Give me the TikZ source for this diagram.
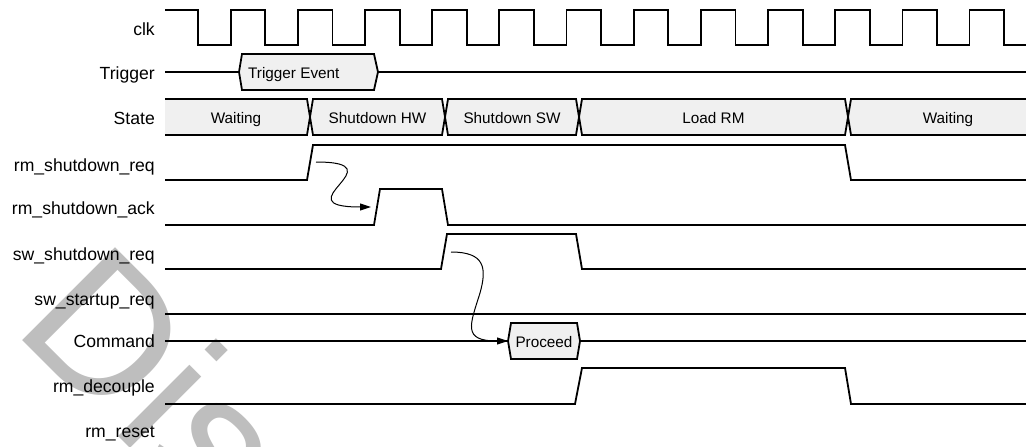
\documentclass[tikz,border=0pt]{standalone}
\usepackage{fontspec}
\setmainfont{Liberation Sans}
\usetikzlibrary{arrows.meta}
\definecolor{gris}{RGB}{240,240,240}
\definecolor{marca}{RGB}{190,190,190}

\begin{document}
\begin{tikzpicture}[x=1pt,y=-1pt,
lbl/.style={anchor=base east,inner sep=0pt,font=\fontsize{17.6}{20}\selectfont},
txt/.style={anchor=base,inner sep=0pt,font=\fontsize{15.3}{18}\selectfont},
wave/.style={line width=1.8pt,line join=miter},
bus/.style={wave,fill=gris},
arr/.style={-{Triangle[length=11pt,width=7pt]},line width=1pt}
]
\useasboundingbox (0,0) rectangle (1026,447);
\clip (0,0) rectangle (1026,447);

\node[anchor=base west,inner sep=0pt,rotate=-45,text=marca,font=\fontsize{191}{191}\selectfont] (wm) at (11.4,329.4) {Discontinued};

\foreach \n/\t/\y in {lclk/clk/35, ltrg/Trigger/79, lst/State/124, lrsq/rm\_shutdown\_req/171, lrsa/rm\_shutdown\_ack/214, lssq/sw\_shutdown\_req/260, lsuq/sw\_startup\_req/305, lcmd/Command/347, lrdc/rm\_decouple/392, lrst/rm\_reset/437}
  \node[lbl] (\n) at (155,\y) {\t};

\draw[wave] (165,10) \foreach \i in {0,...,12} { -- ({198.2+67.17*\i},10) -- ({198.2+67.17*\i},45) -- ({230.7+67.17*\i},45) -- ({230.7+67.17*\i},10) };

\draw[wave] (165,72) -- (1026,72);
\filldraw[bus] (239,72) -- (242,54) -- (374,54) -- (378,72) -- (374,90) -- (242,90) -- cycle;
\node[txt,anchor=base west] (trig) at (248,78.7) {Trigger Event};

\fill[gris] (165,99) -- (307,99) -- (310,117) -- (307,135) -- (165,135) -- cycle;
\draw[wave] (165,99) -- (307,99) -- (310,117) -- (307,135) -- (165,135);
\foreach \a/\b in {310/445,445/579,579/848}
  \filldraw[bus] (\a,117) -- (\a+3,99) -- (\b-3,99) -- (\b,117) -- (\b-3,135) -- (\a+3,135) -- cycle;
\fill[gris] (848,117) -- (851,99) -- (1030,99) -- (1030,135) -- (851,135) -- cycle;
\draw[wave] (1030,99) -- (851,99) -- (848,117) -- (851,135) -- (1030,135);
\foreach \n/\x/\t in {s1/236/Waiting, s2/377.5/Shutdown HW, s3/512/Shutdown SW, s4/713.5/Load RM, s5/948/Waiting}
  \node[txt] (\n) at (\x,123.3) {\t};

\draw[wave] (165,180) -- (307,180) -- (313,145) -- (845,145) -- (851,180) -- (1026,180);
\draw[wave] (165,225) -- (374,225) -- (380,189) -- (442,189) -- (448,225) -- (1026,225);
\draw[wave] (165,269) -- (441,269) -- (447,234) -- (576,234) -- (582,269) -- (1026,269);
\draw[wave] (165,314) -- (1026,314);
\draw[wave] (165,341) -- (1026,341);
\filldraw[bus] (508,341) -- (511,323) -- (577,323) -- (580,341) -- (577,359) -- (511,359) -- cycle;
\node[txt] (proc) at (544,347.3) {Proceed};
\draw[wave] (165,404) -- (575,404) -- (582,368) -- (845,368) -- (851,404) -- (1026,404);

\coordinate (req) at (316,162);
\coordinate (ack) at (371,207);
\coordinate (sreq) at (451,252);
\coordinate (cmd) at (508,341);
\draw[arr] (req) .. controls (400,162) and (280,207) .. (ack);
\draw[arr] (sreq) .. controls (485,252) and (487,268) .. (480,293) .. controls (470,325) and (462,341) .. (cmd);
\end{tikzpicture}
\end{document}
